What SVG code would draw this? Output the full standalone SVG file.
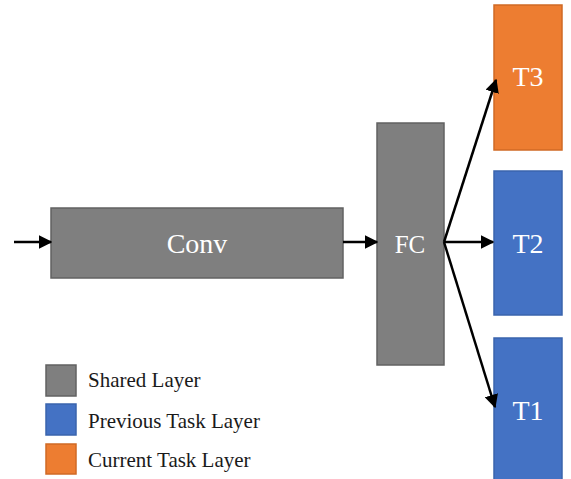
<svg xmlns="http://www.w3.org/2000/svg" width="571" height="479" viewBox="0 0 571 479">
  <style>
    .shared { fill: #7f7f7f; stroke: #626262; stroke-width: 1.5; }
    .prev { fill: #4472c4; stroke: #3a64ad; stroke-width: 1.5; }
    .cur { fill: #ed7d31; stroke: #d06a24; stroke-width: 1.5; }
    svg text.lbl, svg text.leg { font-family: 'Liberation Serif', 'Times New Roman', serif !important; }
    .lbl { fill: #ffffff; text-anchor: middle; }
    .leg { fill: #1a1a1a; font-size: 21px; }
    .edge { stroke: #000000; stroke-width: 2.5; fill: none; marker-end: url(#arrow); }
  </style>
  <defs>
    <marker id="arrow" viewBox="0 0 10 10" refX="9" refY="5" markerWidth="5.5" markerHeight="5.5" orient="auto" markerUnits="strokeWidth">
      <path d="M0,0 L10,5 L0,10 z" fill="#000000"/>
    </marker>
  </defs>

  <rect width="571" height="479" fill="#ffffff"/>

  <g id="conv">
    <rect class="shared" x="51" y="208" width="292" height="70"/>
    <text class="lbl" x="197" y="253" font-size="28" font-family="Liberation Serif">Conv</text>
  </g>
  <g id="fc">
    <rect class="shared" x="377" y="123" width="67" height="242"/>
    <text class="lbl" x="410" y="253" font-size="25" font-family="Liberation Serif">FC</text>
  </g>
  <g id="t3">
    <rect class="cur" x="494" y="5" width="68" height="145"/>
    <text class="lbl" x="528" y="86" font-size="28" font-family="Liberation Serif">T3</text>
  </g>
  <g id="t2">
    <rect class="prev" x="494" y="171" width="68" height="144"/>
    <text class="lbl" x="528" y="253" font-size="28" font-family="Liberation Serif">T2</text>
  </g>
  <g id="t1">
    <rect class="prev" x="494" y="338" width="68" height="145"/>
    <text class="lbl" x="528" y="420" font-size="28" font-family="Liberation Serif">T1</text>
  </g>

  <g id="legend">
    <rect class="shared" x="46" y="365" width="30" height="31"/>
    <text class="leg" x="88" y="387" font-family="Liberation Serif">Shared Layer</text>
    <rect class="prev" x="46" y="404" width="30" height="31"/>
    <text class="leg" x="88" y="428" font-family="Liberation Serif">Previous Task Layer</text>
    <rect class="cur" x="46" y="444" width="30" height="30"/>
    <text class="leg" x="88" y="467" font-family="Liberation Serif">Current Task Layer</text>
  </g>

  <g id="connectors">
    <line class="edge" x1="14" y1="242" x2="51" y2="242"/>
    <line class="edge" x1="343" y1="242" x2="377" y2="242"/>
    <line class="edge" x1="444" y1="242" x2="493" y2="242"/>
    <line class="edge" x1="444" y1="242" x2="496" y2="80"/>
    <line class="edge" x1="444" y1="242" x2="495" y2="407"/>
  </g>
</svg>
